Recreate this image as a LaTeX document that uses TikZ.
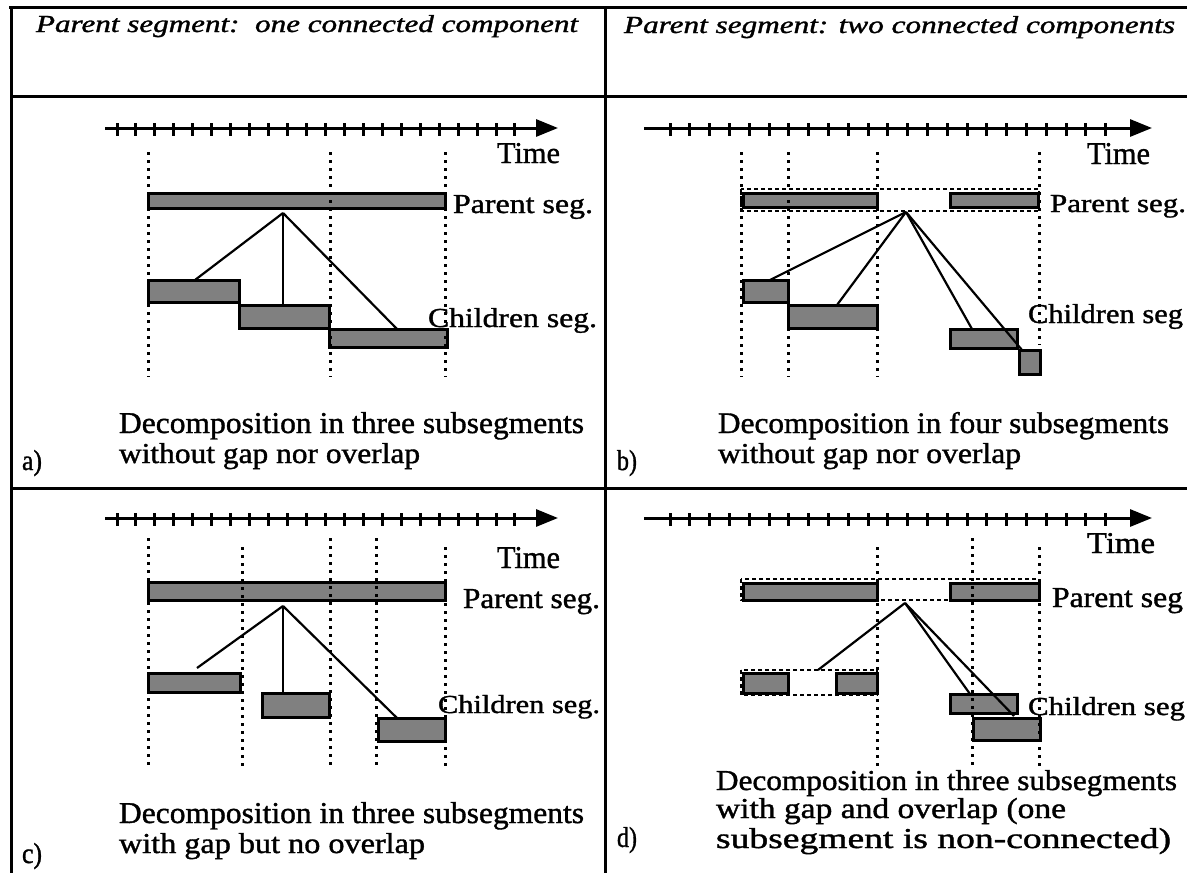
\documentclass[tikz,border=0pt]{standalone}
\usepackage{fontspec}
\setmainfont{Liberation Serif}[FakeBold=1.2]
\usepackage{graphicx}
\usetikzlibrary{arrows.meta}
\definecolor{segfill}{RGB}{128,128,128}
\newcommand\fitt[3]{\resizebox{#1pt}{#2pt}{#3}}
\tikzset{
  x=1pt, y=-1pt,
  frameline/.style={line width=3pt, line cap=rect},
  txt/.style={inner sep=0pt, outer sep=0pt, anchor=base west},
  segb/.style={draw, line width=3pt, fill=segfill, inner sep=0pt, outer sep=0pt, anchor=north west},
  axisline/.style={line width=3pt, -{Triangle[length=22pt,width=17pt]}},
  tick/.style={line width=3pt},
  vdot/.style={line width=3pt, dash pattern=on 3pt off 5pt},
  hdot/.style={line width=2.5pt, dash pattern=on 4pt off 3pt},
  link/.style={line width=2.2pt}
}
\newcommand\seg[5]{\node[segb, minimum width=#4pt-#2pt, minimum height=#5pt-#3pt] (#1) at (#2,#3) {};}
\begin{document}
\begin{tikzpicture}
\useasboundingbox[fill=white] (0,0) rectangle (1187,873);

% frame
\draw[frameline] (10,7) -- (1187,7);
\draw[frameline] (11.5,7) -- (11.5,873);
\draw[frameline] (605,7) -- (605,873);
\draw[frameline] (11.5,96) -- (1187,96);
\draw[frameline] (11.5,488) -- (1187,488);

% headers
\node[txt] (h1) at (36,32) {\fitt{542}{17}{\itshape Parent segment:~~one connected component}};
\node[txt] (h2) at (624,33) {\fitt{551}{17}{\itshape Parent segment: two connected components}};

% ===== panel a =====
\coordinate (ta0) at (105,128); \coordinate (ta1) at (558,128);
\draw[axisline] (ta0) -- (ta1);
\foreach \i in {0,...,21} \draw[tick] ({117+18.95*\i},123) -- ++(0,13);
\seg{pa}{148}{193}{445}{208}
\seg{ca1}{148}{280}{239}{302}
\seg{ca2}{239}{305}{329}{328}
\seg{ca3}{329}{329}{447}{347}
\foreach \x in {148,330,445} \draw[vdot] (\x,152) -- (\x,377);
\coordinate (apa) at (283,213);
\coordinate (ea1) at (195,280); \coordinate (ea2) at (283,305); \coordinate (ea3) at (397,329);
\draw[link] (apa) -- (ea1);
\draw[link] (apa) -- (ea2);
\draw[link] (apa) -- (ea3);
\node[txt] (tia) at (497,163) {\fitt{63}{20}{Time}};
\node[txt] (psa) at (453,213) {\fitt{140}{18}{Parent seg.}};
\node[txt] (csa) at (428,327) {\fitt{169}{19}{Children seg.}};
\node[txt] (dca1) at (119,433) {\fitt{465}{21}{Decomposition in three subsegments}};
\node[txt] (dca2) at (119,463) {\fitt{301}{20}{without gap nor overlap}};
\node[txt] (la) at (22,470) {\fitt{20}{20}{a)}};

% ===== panel b =====
\coordinate (tb0) at (644,128); \coordinate (tb1) at (1152,128);
\draw[axisline] (tb0) -- (tb1);
\foreach \i in {0,...,22} \draw[tick] ({670+19.8*\i},123) -- ++(0,13);
\draw[hdot] (741,189) rectangle (1039,211);
\seg{pb1}{743}{193}{877}{207}
\seg{pb2}{950}{193}{1038}{207}
\seg{cb1}{743}{280}{788}{302}
\seg{cb2}{788}{305}{877}{328}
\seg{cb3}{950}{329}{1017}{348}
\seg{cb4}{1019}{350}{1040}{374}
\foreach \x in {741,788,877} \draw[vdot] (\x,152) -- (\x,377);
\draw[vdot] (1039,152) -- (1039,345);
\coordinate (apb) at (906,212);
\coordinate (eb1) at (770,280); \coordinate (eb2) at (837,305);
\coordinate (eb3) at (972,329); \coordinate (eb4) at (1022,350);
\draw[link] (apb) -- (eb1);
\draw[link] (apb) -- (eb2);
\draw[link] (apb) -- (eb3);
\draw[link] (apb) -- (eb4);
\node[txt] (tib) at (1087,164) {\fitt{63}{21}{Time}};
\node[txt] (psb) at (1050,212) {\fitt{136}{17}{Parent seg.}};
\node[txt] (csb) at (1028,323) {\fitt{155}{19}{Children seg}};
\node[txt] (dcb1) at (718,433) {\fitt{451}{21}{Decomposition in four subsegments}};
\node[txt] (dcb2) at (718,463) {\fitt{303}{20}{without gap nor overlap}};
\node[txt] (lb) at (617,470) {\fitt{20}{20}{b)}};

% ===== panel c =====
\coordinate (tc0) at (105,518); \coordinate (tc1) at (558,518);
\draw[axisline] (tc0) -- (tc1);
\foreach \i in {0,...,21} \draw[tick] ({117+18.95*\i},513) -- ++(0,13);
\seg{pc}{148}{582}{445}{600}
\seg{cc1}{148}{673}{240}{692}
\seg{cc2}{262}{693}{329}{717}
\seg{cc3}{378}{718}{445}{741}
\foreach \x in {148,330,376} \draw[vdot] (\x,538) -- (\x,767);
\foreach \x in {242,445} \draw[vdot] (\x,547) -- (\x,767);
\coordinate (apc) at (283,606);
\coordinate (ec1) at (197,668); \coordinate (ec2) at (283,693); \coordinate (ec3) at (397,718);
\draw[link] (apc) -- (ec1);
\draw[link] (apc) -- (ec2);
\draw[link] (apc) -- (ec3);
\node[txt] (tic) at (497,568) {\fitt{63}{21}{Time}};
\node[txt] (psc) at (463,608) {\fitt{137}{19}{Parent seg.}};
\node[txt] (csc) at (438,713) {\fitt{162}{18}{Children seg.}};
\node[txt] (dcc1) at (119,823) {\fitt{465}{21}{Decomposition in three subsegments}};
\node[txt] (dcc2) at (119,853) {\fitt{306}{20}{with gap but no overlap}};
\node[txt] (lc) at (22,863) {\fitt{20}{20}{c)}};

% ===== panel d =====
\coordinate (td0) at (644,518); \coordinate (td1) at (1152,518);
\draw[axisline] (td0) -- (td1);
\foreach \i in {0,...,22} \draw[tick] ({670+19.8*\i},513) -- ++(0,13);
\draw[hdot] (741,579) rectangle (1039,600);
\draw[hdot] (741,670) rectangle (877,695);
\seg{pd1}{743}{583}{877}{600}
\seg{pd2}{950}{583}{1039}{600}
\seg{cd1a}{743}{673}{788}{693}
\seg{cd1b}{836}{673}{877}{693}
\seg{cd2}{950}{694}{1017}{713}
\seg{cd3}{973}{718}{1040}{740}
\foreach \x in {877,1039} \draw[vdot] (\x,547) -- (\x,767);
\draw[vdot] (972,538) -- (972,767);
\coordinate (apd) at (905,603);
\coordinate (ed1) at (818,670); \coordinate (ed2) at (970,694); \coordinate (ed3) at (1014,716);
\draw[link] (apd) -- (ed1);
\draw[link] (apd) -- (ed2);
\draw[link] (apd) -- (ed3);
\node[txt] (tid) at (1087,553) {\fitt{68}{20}{Time}};
\node[txt] (psd) at (1052,607) {\fitt{131}{19}{Parent seg}};
\node[txt] (csd) at (1028,715) {\fitt{157}{18}{Children seg}};
\node[txt] (dcd1) at (716,790) {\fitt{461}{20}{Decomposition in three subsegments}};
\node[txt] (dcd2) at (716,818) {\fitt{350}{20}{with gap and overlap (one}};
\node[txt] (dcd3) at (716,848) {\fitt{455}{20}{subsegment is non-connected)}};
\node[txt] (ld) at (617,847) {\fitt{20}{20}{d)}};
\end{tikzpicture}
\end{document}
